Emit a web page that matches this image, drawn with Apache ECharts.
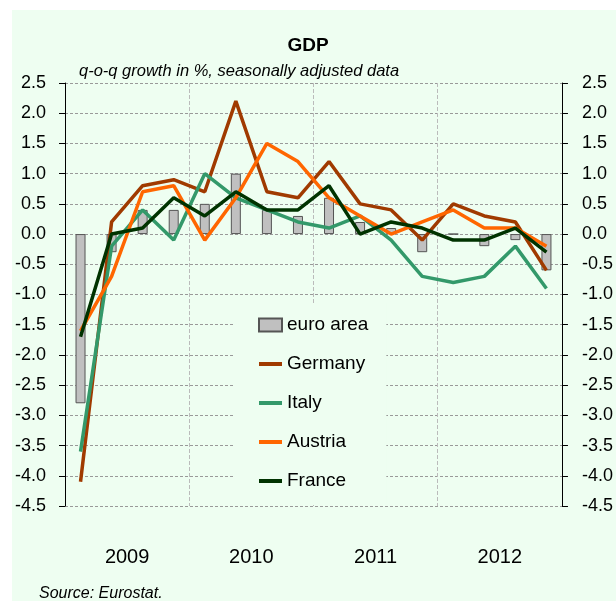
<!DOCTYPE html>
<html>
<head>
<meta charset="utf-8">
<script src="https://cdn.jsdelivr.net/npm/echarts@6/dist/echarts.min.js"></script>
<style>
  body { margin: 0; background: #fff; }
  #bg { position: absolute; left: 12px; top: 10px; width: 604px; height: 591px; background: #EEFEF1; }
  #chart { position: absolute; left: 0; top: 0; width: 616px; height: 601px; }
</style>
</head>
<body>
<div id="bg"></div>
<div id="chart"></div>
<script>
// quarters 2009Q1 .. 2012Q4
var quarters = ['09Q1','09Q2','09Q3','09Q4','10Q1','10Q2','10Q3','10Q4',
                '11Q1','11Q2','11Q3','11Q4','12Q1','12Q2','12Q3','12Q4'];
var years = ['2009', '2010', '2011', '2012'];
var euroArea = [-2.8, -0.3, 0.4, 0.4, 0.5, 1.0, 0.4, 0.3, 0.6, 0.2, 0.1, -0.3, 0.0, -0.2, -0.1, -0.6];
var germany  = [-4.1, 0.2, 0.8, 0.9, 0.7, 2.2, 0.7, 0.6, 1.2, 0.5, 0.4, -0.1, 0.5, 0.3, 0.2, -0.6];
var italy    = [-3.6, -0.2, 0.4, -0.1, 1.0, 0.6, 0.4, 0.2, 0.1, 0.3, -0.1, -0.7, -0.8, -0.7, -0.2, -0.9];
var austria  = [-1.6, -0.7, 0.7, 0.8, -0.1, 0.6, 1.5, 1.2, 0.6, 0.3, 0.0, 0.2, 0.4, 0.1, 0.1, -0.2];
var france   = [-1.7, 0.0, 0.1, 0.6, 0.3, 0.7, 0.4, 0.4, 0.8, 0.0, 0.2, 0.1, -0.1, -0.1, 0.1, -0.3];

var font = 'Liberation Sans, Arial, sans-serif';

var chart = echarts.init(document.getElementById('chart'));

function lineSeries(name, data, color) {
    return {
        name: name,
        type: 'line',
        data: data,
        symbol: 'none',
        lineStyle: { color: color, width: 3.5 },
        itemStyle: { color: color },
        animation: false
    };
}

// legend entry for a line: only the stroke, no symbol
function lineLegend(name) {
    return { name: name, itemStyle: { opacity: 0 }, lineStyle: { width: 4 } };
}

var yAxisCommon = {
    type: 'value',
    min: -4.5,
    max: 2.5,
    interval: 0.5,
    axisLine: { show: true, lineStyle: { color: '#000', width: 1 } },
    axisTick: { show: true, inside: false, length: 6, lineStyle: { color: '#000' } },
    axisLabel: {
        color: '#000',
        fontFamily: font,
        fontSize: 18,
        formatter: function (v) { return v.toFixed(1); }
    }
};

var option = {
    backgroundColor: 'transparent',
    title: [
        { text: 'GDP', left: 'center', top: 31,
          textStyle: { fontFamily: font, fontSize: 19, fontWeight: 'bold', color: '#000' } },
        { text: 'q-o-q growth in %, seasonally adjusted data', left: 74, top: 58,
          textStyle: { fontFamily: font, fontSize: 16.5, fontStyle: 'italic', fontWeight: 'normal', color: '#000' } },
        { text: 'Source: Eurostat.', left: 34, top: 581,
          textStyle: { fontFamily: font, fontSize: 16, fontStyle: 'italic', fontWeight: 'normal', color: '#000' } }
    ],
    grid: { left: 65, right: 54, top: 83, bottom: 95 },
    legend: {
        orient: 'vertical',
        left: 235,
        top: 303,
        backgroundColor: '#EEFEF1',
        padding: [11, 18, 13, 22],
        itemWidth: 23,
        itemHeight: 13,
        itemGap: 17,
        textStyle: { fontFamily: font, fontSize: 19, color: '#000', lineHeight: 22 },
        data: [
            { name: 'euro area', icon: 'rect' },
            lineLegend('Germany'), lineLegend('Italy'), lineLegend('Austria'), lineLegend('France')
        ]
    },
    xAxis: [
        {
            type: 'category',
            data: quarters,
            boundaryGap: true,
            axisLine: { show: false },
            axisTick: { show: false },
            axisLabel: { show: false },
            splitLine: { show: false }
        },
        {
            type: 'category',
            data: years,
            boundaryGap: true,
            position: 'bottom',
            axisLine: { show: false },
            axisTick: { show: false },
            axisLabel: { color: '#000', fontFamily: font, fontSize: 20, margin: 41 },
            splitLine: { show: true, lineStyle: { color: '#bbbbbb', type: 'dashed', width: 1 } }
        }
    ],
    yAxis: [
        Object.assign({}, yAxisCommon, {
            position: 'left',
            axisLabel: Object.assign({}, yAxisCommon.axisLabel, { margin: 19 }),
            splitLine: { show: true, lineStyle: { color: '#999999', type: [3, 2], width: 1 } }
        }),
        Object.assign({}, yAxisCommon, {
            position: 'right',
            axisLabel: Object.assign({}, yAxisCommon.axisLabel, { margin: 20 }),
            splitLine: { show: false }
        })
    ],
    series: [
        {
            name: 'euro area',
            type: 'bar',
            data: euroArea,
            barWidth: 10,
            itemStyle: { color: '#C0C0C0', borderColor: '#555555', borderWidth: 1 },
            animation: false
        },
        lineSeries('Germany', germany, '#A03A00'),
        lineSeries('Italy', italy, '#33996A'),
        lineSeries('Austria', austria, '#FF6600'),
        lineSeries('France', france, '#003300')
    ]
};

chart.setOption(option);
</script>
</body>
</html>
